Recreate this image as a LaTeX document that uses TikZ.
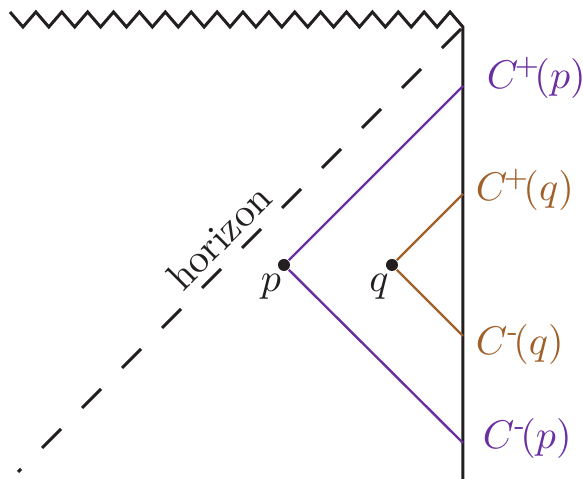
\documentclass[tikz,border=0pt]{standalone}
\usepackage{amsmath}
\usetikzlibrary{calc, positioning}
\definecolor{ink}{HTML}{231F20}
\definecolor{cpurp}{HTML}{6A2FA0}
\definecolor{cbrown}{HTML}{A0602A}
\tikzset{el/.style={line cap=butt, line join=miter},
  bd/.style={ink, line width=0.75pt},
  cone/.style={line width=0.6pt},
  dot/.style={circle, fill=ink, inner sep=0pt, minimum size=3pt},
  lbl/.style={inner sep=0pt, anchor=west}}

\begin{document}
\begin{tikzpicture}[el, x=0.25pt, y=-0.25pt]
  \useasboundingbox (0,0) rectangle (583,479);
  \coordinate (crn) at (463,27); \coordinate (base) at (463,479);
  \coordinate (hend) at (18,472);
  \coordinate (cpp) at (463,86); \coordinate (cmp) at (463,443);
  \coordinate (cpq) at (463,194); \coordinate (cmq) at (463,336);
  \node[dot] (p) at (284,265) {}; \node[dot] (q) at (392,265) {};
  \draw[bd, dash pattern=on 6.72pt off 7.42pt] ($(crn)+(-2,2)$) -- (hend);
  \draw[bd] (10,12) \foreach \k in {1,...,17}{ -- ++(12.943,15) -- ++(12.943,-15)} -- (crn) -- (base);
  \draw[cone, cpurp] (cpp) -- (p) -- (cmp);
  \draw[cone, cbrown] (cpq) -- (q) -- (cmq);
  \node[lbl, text=cpurp] (lcpp) at ($(cpp)+(23,-8)$) {$C^{\mkern-2mu+}\mkern-3mu(p)$};
  \node[lbl, text=cbrown] (lcpq) at ($(cpq)+(12,-4)$) {$C^{\mkern-2mu+}\mkern-3mu(q)$};
  \node[lbl, text=cbrown] (lcmq) at ($(cmq)+(12,9)$) {$C^{\text{-}}\mkern-3mu(q)$};
  \node[lbl, text=cpurp] (lcmp) at ($(cmp)+(19,-4)$) {$C^{\text{-}}\mkern-3mu(p)$};
  \node[text=ink] (plab) at ($(p)+(-13,22)$) {$p$};
  \node[text=ink] (qlab) at ($(q)+(-13,22)$) {$q$};
  \node[text=ink, rotate=45] (hlab) at ($(crn)!0.51!(hend)+(-17,-17)$) {horizon};
\end{tikzpicture}
\end{document}
